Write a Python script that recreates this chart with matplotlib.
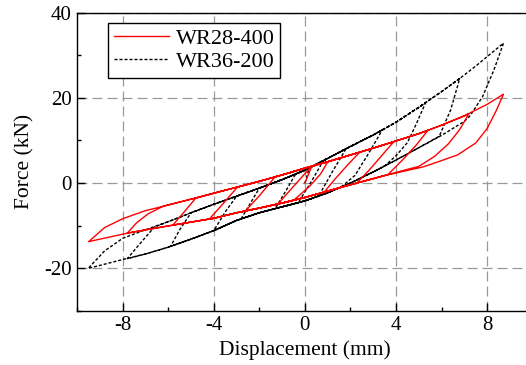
import matplotlib
matplotlib.use("Agg")
import matplotlib.pyplot as plt
from matplotlib.ticker import MultipleLocator

plt.rcParams['font.family'] = ['Liberation Serif', 'DejaVu Serif']
plt.rcParams['axes.unicode_minus'] = False
plt.rcParams['font.size'] = 15

# WR28-400 hysteresis record (displacement mm, force kN)
wr28_x = [0.0, 0.3, 1.0, 0.7, 0.2, -0.5, -1.2,
          -0.5, 0.3, 1.0, 2.0, 2.4,
          1.9, 1.3, 0.84, 0.0, -1.0, -2.0, -2.6,
          -2.0, -1.3, -1.0, 0.0, 1.0, 2.0, 3.0, 3.9,
          3.4, 2.8, 2.26, 2.0, 1.0, 0.0, -1.0, -2.0, -3.0, -4.0, -4.2,
          -3.6, -2.97, -2.0, -1.0, 0.0, 1.0, 2.0, 3.0, 4.0, 5.0, 5.4,
          4.9, 4.3, 3.65, 3.0, 2.0, 1.0, 0.0, -1.0, -2.0, -3.0, -4.0, -5.0, -5.8,
          -5.3, -4.8, -4.0, -3.0, -2.0, -1.0, 0.0, 1.0, 2.0, 3.0, 4.0, 5.0, 6.0, 7.0, 7.2,
          6.8, 6.3, 5.7, 5.0, 4.0, 3.0, 2.0, 1.0, 0.0, -1.0, -2.0, -3.0, -4.0, -5.0, -6.0, -7.0, -7.8,
          -7.4, -6.9, -6.2, -5.0, -4.0, -3.0, -2.0, -1.0, 0.0, 1.0, 2.0, 3.0, 4.0, 5.0, 6.0, 7.0, 7.25, 8.0, 8.72,
          8.4, 8.0, 7.5, 6.7, 5.8, 5.2, 4.2, 3.3, 2.0, 1.0, 0.0, -1.0, -2.0, -3.0, -4.0, -6.0, -7.8, -9.5,
          -8.8, -8.0, -7.0, -6.0, -5.0, -4.0, -3.0, -2.0, -1.0, 0.0]
wr28_y = [0.0, 3.9, 5.0, 2.2, -0.8, -4.1, -5.0,
          -0.8, 4.0, 5.0, 6.6, 7.2,
          4.4, 0.8, -2.2, -3.4, -4.7, -5.9, -6.5,
          -3.0, 1.5, 1.9, 3.5, 5.0, 6.6, 8.2, 9.7,
          6.6, 2.9, -0.1, -0.4, -1.9, -3.4, -4.7, -5.9, -7.0, -8.3, -8.5,
          -4.9, -1.0, 0.4, 1.9, 3.5, 5.0, 6.6, 8.2, 9.9, 11.6, 12.4,
          9.0, 5.5, 2.0, 1.0, -0.4, -1.9, -3.4, -4.7, -5.9, -7.0, -8.3, -9.2, -9.9,
          -6.8, -3.6, -2.4, -1.0, 0.4, 1.9, 3.5, 5.0, 6.6, 8.2, 9.9, 11.6, 13.6, 15.8, 16.3,
          12.6, 9.2, 6.3, 3.9, 2.5, 1.0, -0.4, -1.9, -3.4, -4.7, -5.9, -7.0, -8.3, -9.2, -10.1, -11.0, -11.8,
          -9.4, -7.3, -5.4, -3.8, -2.4, -1.0, 0.4, 1.9, 3.5, 5.0, 6.6, 8.2, 9.9, 11.6, 13.6, 15.8, 16.5, 18.5, 20.9,
          17.0, 12.8, 9.4, 6.6, 4.9, 3.8, 2.6, 1.5, -0.4, -1.9, -3.4, -4.7, -5.9, -7.0, -8.3, -10.1, -11.8, -13.8,
          -10.5, -8.4, -6.5, -5.2, -3.8, -2.4, -1.0, 0.4, 1.9, 3.5]

# WR36-200 hysteresis record
wr36_x = [0.0, 0.2, 0.8, 0.3, -0.3, -1.0, -1.3,
          -0.8, -0.4, 0.0, 1.0, 1.8,
          1.2, 0.6, 0.0, -1.0, -2.0, -2.8,
          -2.4, -2.0, -1.0, 0.0, 1.0, 2.0, 3.0, 3.4,
          2.8, 2.2, 1.6, 1.0, 0.0, -1.0, -2.0, -3.0, -4.0,
          -3.5, -3.0, -2.0, -1.0, 0.0, 1.0, 2.0, 3.0, 4.0, 5.0, 5.3,
          4.9, 4.5, 4.0, 3.5, 3.0, 2.0, 1.0, 0.0, -1.0, -2.0, -3.0, -4.0, -5.0, -5.9,
          -5.5, -5.0, -4.0, -3.0, -2.0, -1.0, 0.0, 1.0, 2.0, 3.0, 4.0, 5.0, 6.0, 6.8,
          6.4, 5.9, 5.0, 4.0, 3.0, 2.0, 1.0, 0.0, -1.0, -2.0, -3.0, -4.0, -5.0, -6.0, -7.0, -7.8,
          -7.2, -6.6, -6.0, -5.0, -4.0, -3.0, -2.0, -1.0, 0.0, 1.0, 2.0, 3.0, 4.0, 5.0, 6.0, 6.8, 7.5, 8.72,
          8.3, 7.8, 7.25, 7.0, 6.0, 5.0, 4.0, 3.0, 2.0, 1.0, 0.0, -1.0, -2.0, -3.0, -4.0, -5.0, -6.0, -7.0, -8.0, -9.52,
          -8.8, -8.0, -7.0, -6.0, -5.0, -4.0, -3.0, -2.0, -1.0, 0.0]
wr36_y = [0.0, 3.6, 5.2, 0.5, -4.7, -5.6, -6.0,
          -1.5, 2.2, 3.0, 5.8, 8.0,
          2.6, -3.1, -4.2, -5.6, -7.0, -8.4,
          -4.8, -1.2, 0.8, 3.0, 5.8, 8.6, 11.3, 12.5,
          7.0, 1.8, -0.9, -2.3, -4.2, -5.6, -7.0, -8.8, -11.2,
          -6.8, -3.1, -1.2, 0.8, 3.0, 5.8, 8.6, 11.3, 14.3, 17.8, 18.9,
          14.0, 9.5, 6.4, 4.0, 2.6, 0.0, -2.3, -4.2, -5.6, -7.0, -8.8, -11.2, -13.2, -14.9,
          -11.0, -7.0, -5.0, -3.1, -1.2, 0.8, 3.0, 5.8, 8.6, 11.3, 14.3, 17.8, 21.5, 24.6,
          17.2, 11.0, 8.3, 5.4, 2.6, 0.0, -2.3, -4.2, -5.6, -7.0, -8.8, -11.2, -13.2, -15.1, -16.7, -17.8,
          -14.0, -10.3, -9.1, -7.0, -5.0, -3.1, -1.2, 0.8, 3.0, 5.8, 8.6, 11.3, 14.3, 17.8, 21.5, 24.6, 27.5, 32.9,
          26.6, 20.3, 15.8, 14.5, 11.2, 8.3, 5.4, 2.6, 0.0, -2.3, -4.2, -5.6, -7.0, -8.8, -11.2, -13.2, -15.1, -16.7, -18.0, -20.1,
          -16.0, -13.0, -11.0, -9.1, -7.0, -5.0, -3.1, -1.2, 0.8, 3.0]

x_ticks = [-8, -4, 0, 4, 8]
y_ticks = [-20, 0, 20, 40]

fig = plt.figure(figsize=(5.26, 3.65), dpi=100)
ax = fig.add_axes([0.1468, 0.1493, 0.8658, 0.8151])

ax.plot(wr28_x, wr28_y, color='red', lw=1.0, label='WR28-400', zorder=3)
ax.plot(wr36_x, wr36_y, color='black', lw=1.0, ls=(0, (2.2, 1.4)), label='WR36-200', zorder=2)

ax.set_xlim(-10, 10)
ax.set_ylim(-30, 40)
ax.set_xticks(x_ticks)
ax.set_yticks(y_ticks)
ax.xaxis.set_minor_locator(MultipleLocator(2))
ax.yaxis.set_minor_locator(MultipleLocator(10))
ax.tick_params(which='both', direction='in', top=False, right=False, labelsize=15, pad=4)
ax.tick_params(which='major', length=6, width=1)
ax.tick_params(which='minor', length=3, width=1)
ax.grid(True, which='major', color='#999999', ls=(0, (8, 4)), lw=0.9)
for s in ax.spines.values():
    s.set_linewidth(1.0)

ax.set_xlabel('Displacement (mm)', fontsize=15.5, labelpad=4)
ax.set_ylabel('Force (kN)', fontsize=15.5, labelpad=7)

leg = ax.legend(loc='upper left', bbox_to_anchor=(0.0676, 0.966), fancybox=False,
                edgecolor='black', framealpha=1, fontsize=16, handlelength=2.5,
                handletextpad=0.3, labelspacing=0.1, borderpad=0.25, borderaxespad=0)
leg.get_frame().set_linewidth(1.0)

fig.savefig('out.png', dpi=100)
